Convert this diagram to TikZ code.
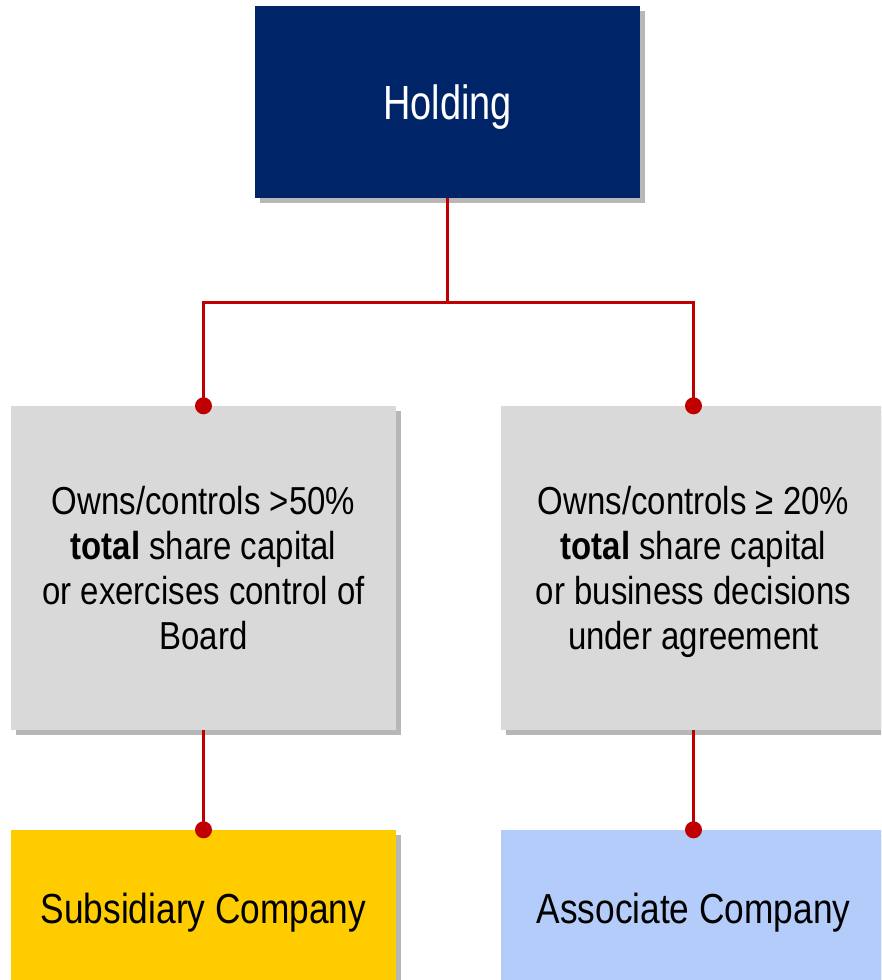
\documentclass[tikz,border=0pt]{standalone}
\usepackage{fontspec}
\setmainfont{Liberation Sans}[FakeStretch=0.84]
\newfontfamily\holdfont{Liberation Sans}[FakeStretch=0.79]
\newfontfamily\bodyfont{Liberation Sans}[FakeStretch=0.845]
\newfontfamily\bottomfont{Liberation Sans}[FakeStretch=0.84]
\usetikzlibrary{shadows}
\definecolor{navy}{RGB}{0,36,104}
\definecolor{boxgray}{RGB}{217,217,217}
\definecolor{subyellow}{RGB}{255,204,0}
\definecolor{assocblue}{RGB}{180,204,250}
\definecolor{linkred}{RGB}{192,0,0}
\begin{document}
\begin{tikzpicture}[x=1pt,y=-1pt,
  box/.style={rectangle, minimum width=385pt, inner sep=0pt, align=center,
    drop shadow={shadow xshift=5pt, shadow yshift=-5pt, opacity=0.4, fill=black!70}},
  link/.style={draw=linkred, line width=3pt},
  dot/.style={circle, fill=linkred, inner sep=0pt, minimum size=17pt},
  bodytext/.style={font=\bodyfont\fontsize{39}{45}\selectfont, text depth=0pt},
  bottomtext/.style={font=\bottomfont\fontsize{42}{48}\selectfont, text height=30pt, text depth=0pt}]
\useasboundingbox (0,0) rectangle (881,980);
\clip (0,0) rectangle (881,980);
\fill[white] (0,0) rectangle (881,980);
\node[box, fill=navy, text=white, minimum height=192pt, text height=34pt, text depth=0pt, font=\holdfont\fontsize{48}{54}\selectfont] (hold) at (447.5,102) {Holding};
\node[box, fill=boxgray, minimum height=324pt, bodytext] (lbox) at (203.5,568)
  {Owns/controls >50\%\\\textbf{total} share capital\\or exercises control of\\Board};
\node[box, fill=boxgray, minimum height=324pt, bodytext] (rbox) at (693.5,568)
  {Owns/controls ≥ 20\%\\\textbf{total} share capital\\or business decisions\\under agreement};
\node[box, fill=subyellow, minimum height=156pt, bottomtext] (lsub) at (203.5,908) {Subsidiary Company};
\node[box, fill=assocblue, minimum height=156pt, bottomtext] (rsub) at (693.5,908) {Associate Company};
\coordinate (split) at ([yshift=-104pt]hold.south);
\draw[link] (hold.south) -- (split) -| (lbox.north);
\draw[link] (split) -| (rbox.north);
\draw[link] (lbox.south) -- (lsub.north);
\draw[link] (rbox.south) -- (rsub.north);
\node[dot] (d1) at (lbox.north) {};
\node[dot] (d2) at (rbox.north) {};
\node[dot] (d3) at (lsub.north) {};
\node[dot] (d4) at (rsub.north) {};
\end{tikzpicture}
\end{document}
